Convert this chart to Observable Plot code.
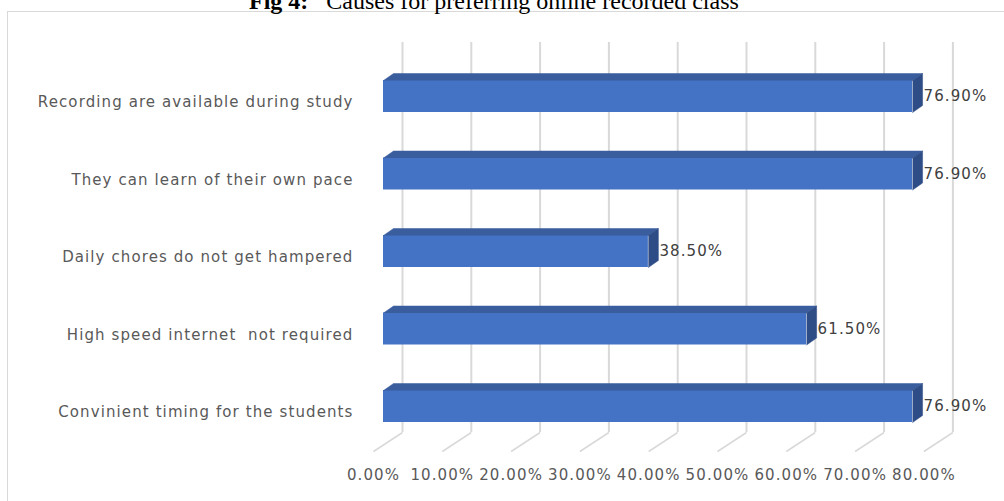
<!DOCTYPE html>
<html>
<head>
<meta charset="utf-8">
<script src="https://cdn.jsdelivr.net/npm/d3@7"></script>
<script src="https://cdn.jsdelivr.net/npm/@observablehq/plot@0.6"></script>
<style>
  html, body { margin: 0; padding: 0; background: #fff; overflow: hidden; width: 1004px; height: 501px; }
  #wrap { position: relative; width: 1004px; height: 501px; }
  #chart svg { display: block; }
  #frame { position: absolute; left: 7px; top: 11px; width: 1010px; height: 520px; border: 1px solid #d9d9d9; box-sizing: border-box; pointer-events: none; }
  #title { position: absolute; left: 249px; top: -11px; font-family: "Liberation Serif", "Times New Roman", serif; font-size: 24px; line-height: 24px; color: #000; white-space: pre; }
</style>
</head>
<body>
<div id="wrap">
  <div id="chart"></div>
  <div id="frame"></div>
  <div id="title"><b>Fig 4:</b>   Causes for preferring online recorded class</div>
</div>
<script>
const categories = [
  "Recording are available during study",
  "They can learn of their own pace",
  "Daily chores do not get hampered",
  "High speed internet  not required",
  "Convinient timing for the students"
];
const values = [76.9, 76.9, 38.5, 61.5, 76.9];
const ticks = [0, 10, 20, 30, 40, 50, 60, 70, 80];

// pixel geometry helpers (scale ranges)
const x0 = 383, xPerUnit = 550.4 / 80;
const y0 = 96, yPerUnit = 77.5;
const px = p => p / xPerUnit;      // pixels -> x units
const py = p => p / yPerUnit;      // pixels -> y units
const h = py(16);                  // half bar height
const ox = px(10), oy = py(7);     // bar depth offsets
const gridTop = py(42 - y0), floorBack = py(432 - y0), floorFront = py(451 - y0), tickY = py(475 - y0);

const rows = values.map((v, i) => ({i, v, label: categories[i]}));
const topFaces = rows.flatMap(d => [
  {i: d.i, x: 0, y: d.i - h},
  {i: d.i, x: ox, y: d.i - h - oy},
  {i: d.i, x: d.v + ox, y: d.i - h - oy},
  {i: d.i, x: d.v, y: d.i - h}
]);
const sideFaces = rows.flatMap(d => [
  {i: d.i, x: d.v, y: d.i - h},
  {i: d.i, x: d.v + ox, y: d.i - h - oy},
  {i: d.i, x: d.v + ox, y: d.i + h - oy},
  {i: d.i, x: d.v, y: d.i + h}
]);

const font = "DejaVu Sans, sans-serif";

const chart = Plot.plot({
  width: 1004,
  height: 501,
  x: {domain: [0, 80], range: [x0, x0 + 550.4], axis: null},
  y: {domain: [0, 4], range: [y0, y0 + 4 * yPerUnit], axis: null},
  style: {fontFamily: font, background: "white"},
  marks: [
    Plot.ruleX(ticks, {x: d => d, dx: 19, y1: gridTop, y2: floorBack, stroke: "#d9d9d9", strokeWidth: 2}),
    Plot.link(ticks, {x1: d => d + px(19), y1: floorBack, x2: d => d - px(10), y2: floorFront, stroke: "#d9d9d9", strokeWidth: 1.5}),
    Plot.rectX(rows, {x1: 0, x2: "v", y1: d => d.i - h, y2: d => d.i + h, fill: "#4472c4"}),
    Plot.line(topFaces, {x: "x", y: "y", z: "i", fill: "#3a5d9e", stroke: "#3a5d9e", strokeWidth: 0.5}),
    Plot.line(sideFaces, {x: "x", y: "y", z: "i", fill: "#2e4d87", stroke: "#2e4d87", strokeWidth: 0.5}),
    Plot.text(rows, {x: "v", y: "i", dx: 11, text: d => d.v.toFixed(2) + "%", textAnchor: "start", fill: "#404040", fontSize: 15}),
    Plot.text(rows, {x: 0, y: "i", dx: -30, dy: 6, text: "label", textAnchor: "end", fill: "#595959", fontSize: 15}),
    Plot.text(ticks, {x: d => d, y: tickY, dx: -10, text: d => d.toFixed(2) + "%", fill: "#595959", fontSize: 15})
  ]
});
chart.querySelectorAll("text").forEach(t => { t.style.letterSpacing = "1.1px"; t.setAttribute("xml:space", "preserve"); t.style.whiteSpace = "pre"; });
document.getElementById("chart").append(chart);
</script>
</body>
</html>
